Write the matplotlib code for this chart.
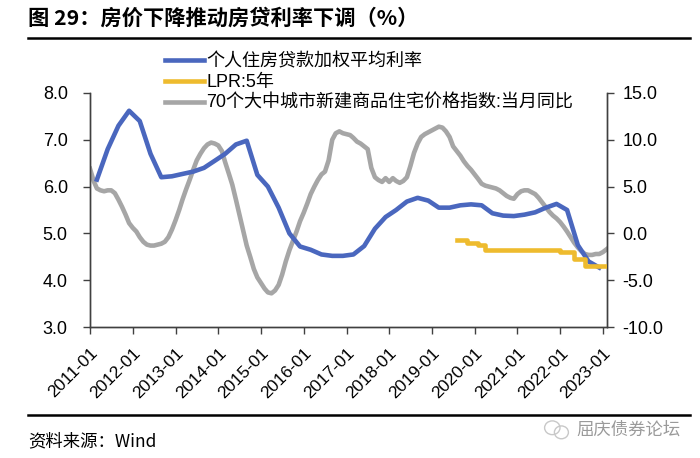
import matplotlib
matplotlib.use("Agg")
import matplotlib.pyplot as plt
from matplotlib.patches import Ellipse
import pandas as pd

plt.rcParams['font.family'] = ['Liberation Sans', 'Noto Sans CJK SC', 'DejaVu Sans']

# 个人住房贷款加权平均利率 (quarterly, left axis)
loan_dates = ["2011-03", "2011-06", "2011-09", "2011-12", "2012-03", "2012-06", "2012-09", "2012-12",
              "2013-03", "2013-06", "2013-09", "2013-12", "2014-03", "2014-06", "2014-09", "2014-12",
              "2015-03", "2015-06", "2015-09", "2015-12", "2016-03", "2016-06", "2016-09", "2016-12",
              "2017-03", "2017-06", "2017-09", "2017-12", "2018-03", "2018-06", "2018-09", "2018-12",
              "2019-03", "2019-06", "2019-09", "2019-12", "2020-03", "2020-06", "2020-09", "2020-12",
              "2021-03", "2021-06", "2021-09", "2021-12", "2022-03", "2022-06", "2022-09", "2022-12"]
loan_rate = [6.15, 6.80, 7.30, 7.62, 7.40, 6.70, 6.20, 6.22,
             6.27, 6.32, 6.40, 6.55, 6.70, 6.90, 6.98, 6.25,
             6.00, 5.55, 5.00, 4.72, 4.65, 4.55, 4.52, 4.52,
             4.55, 4.73, 5.10, 5.35, 5.50, 5.68, 5.76, 5.70,
             5.55, 5.55, 5.60, 5.62, 5.60, 5.43, 5.38, 5.37,
             5.40, 5.45, 5.55, 5.63, 5.50, 4.75, 4.40, 4.27]

# LPR:5年 (left axis)
lpr_dates = ["2019-08", "2019-11", "2020-02", "2020-04", "2022-01", "2022-05", "2022-08", "2023-02"]
lpr_5y = [4.85, 4.80, 4.75, 4.65, 4.60, 4.45, 4.30, 4.30]

# 70个大中城市新建商品住宅价格指数:当月同比 (monthly, right axis)
price_start = "2011-01"
price_yoy = [6.9, 5.6, 4.8, 4.6, 4.5, 4.6, 4.6, 4.3, 3.6, 2.85, 2.0, 1.1,
             0.6, 0.2, -0.4, -0.9, -1.2, -1.3, -1.3, -1.2, -1.1, -0.9, -0.4, 0.4,
             1.4, 2.5, 3.6, 4.7, 5.7, 6.8, 7.8, 8.5, 9.1, 9.5, 9.7, 9.6,
             9.4, 8.8, 7.6, 6.4, 5.2, 3.6, 2.0, 0.3, -1.3, -2.5, -3.8, -4.7,
             -5.3, -5.9, -6.3, -6.4, -6.1, -5.5, -4.4, -3.0, -1.8, -0.8, 0.2, 1.3,
             2.2, 3.2, 4.2, 5.0, 5.7, 6.3, 6.6, 7.8, 10.0, 10.7, 10.9, 10.7,
             10.6, 10.5, 10.2, 9.8, 9.6, 9.3, 9.0, 7.0, 6.0, 5.7, 5.5, 5.9,
             5.5, 5.9, 5.6, 5.4, 5.6, 6.0, 7.2, 8.6, 9.6, 10.3, 10.6, 10.8,
             11.0, 11.2, 11.4, 11.3, 10.9, 10.3, 9.3, 8.8, 8.3, 7.7, 7.2, 6.8,
             6.3, 5.8, 5.3, 5.1, 5.0, 4.9, 4.8, 4.6, 4.3, 4.0, 3.8, 3.7,
             4.2, 4.5, 4.6, 4.6, 4.4, 4.2, 3.8, 3.3, 2.8, 2.3, 1.9, 1.6,
             1.2, 0.7, 0.2, -0.4, -1.0, -1.5, -1.9, -2.2, -2.3, -2.3, -2.2, -2.2,
             -2.0, -1.7]

years = list(range(2011, 2024))

blue = "#4A67BE"
gold = "#EEBB2E"
grey = "#A6A6A6"

loan_x = pd.to_datetime(loan_dates)
lpr_x = pd.to_datetime(lpr_dates)
price_x = pd.date_range(price_start, periods=len(price_yoy), freq="MS")

fig = plt.figure(figsize=(7, 4.58), dpi=100)
ax = fig.add_axes([0.1286, 0.286, 0.7385, 0.511])
ax2 = ax.twinx()

l1, = ax.plot(loan_x, loan_rate, color=blue, lw=3.3, solid_joinstyle='round', zorder=3)
l2, = ax.plot(lpr_x, lpr_5y, color=gold, lw=3.3, drawstyle='steps-post', zorder=3)
l3, = ax2.plot(price_x, price_yoy, color=grey, lw=3.3, solid_joinstyle='round')
ax.set_zorder(ax2.get_zorder() + 1)
ax.patch.set_visible(False)

ax.set_ylim(3, 8)
ax2.set_ylim(-10, 15)
ax.set_yticks([3, 4, 5, 6, 7, 8])
ax2.set_yticks([-10, -5, 0, 5, 10, 15])
ax.yaxis.set_major_formatter(plt.FormatStrFormatter('%.1f'))
ax2.yaxis.set_major_formatter(plt.FormatStrFormatter('%.1f'))

ax.set_xlim(pd.Timestamp("2011-01-01"), pd.Timestamp("2023-02-05"))
ticks = [pd.Timestamp(f"{y}-01-01") for y in years]
ax.set_xticks(ticks)
ax.set_xticklabels([f"{y}-01" for y in years], rotation=45, ha='right', rotation_mode='anchor')

for a in (ax, ax2):
    a.spines['top'].set_visible(False)
    for s in ('left', 'right', 'bottom'):
        a.spines[s].set_color('#404040')
        a.spines[s].set_linewidth(1.0)
    a.tick_params(direction='out', length=5, width=1, color='#404040', labelsize=13)
ax.tick_params(axis='x', pad=8, labelsize=12.5)
ax.tick_params(axis='y', pad=11)
ax2.tick_params(axis='y', pad=6)

fig.legend([l1, l2, l3],
           ["个人住房贷款加权平均利率", "LPR:5年", "70个大中城市新建商品住宅价格指数:当月同比"],
           loc='upper left', bbox_to_anchor=(0.235, 0.885), frameon=False,
           handlelength=2.2, handletextpad=0.1, labelspacing=0.22,
           borderpad=0, borderaxespad=0,
           prop={'family': ['Liberation Sans', 'Noto Sans CJK SC'], 'size': 13})

fig.text(0.04, 0.96, "图 29：房价下降推动房贷利率下调（%）", fontsize=15.3, fontweight='bold',
         family=['Noto Sans CJK SC', 'DejaVu Sans'], va='center', ha='left')
fig.add_artist(plt.Line2D([0.04, 0.985], [0.918, 0.918], color='black', lw=1.8))
fig.add_artist(plt.Line2D([0.04, 0.985], [0.093, 0.093], color='black', lw=1.8))
fig.text(0.04, 0.037, "资料来源：Wind", fontsize=12.5,
         family=['Noto Sans CJK SC', 'DejaVu Sans'], va='center', ha='left')
fig.text(0.972, 0.061, "屈庆债券论坛", fontsize=12.5, color='#9A9A9A',
         family=['Noto Sans CJK SC', 'DejaVu Sans'], va='center', ha='right')
# small wechat-style mark before the watermark
fig.add_artist(Ellipse((0.789, 0.066), 0.022, 0.03, fill=False, ec='#C8C8C8', lw=1.0))
fig.add_artist(Ellipse((0.802, 0.056), 0.020, 0.028, fill=False, ec='#C8C8C8', lw=1.0))

fig.savefig("out.png", dpi=100)
